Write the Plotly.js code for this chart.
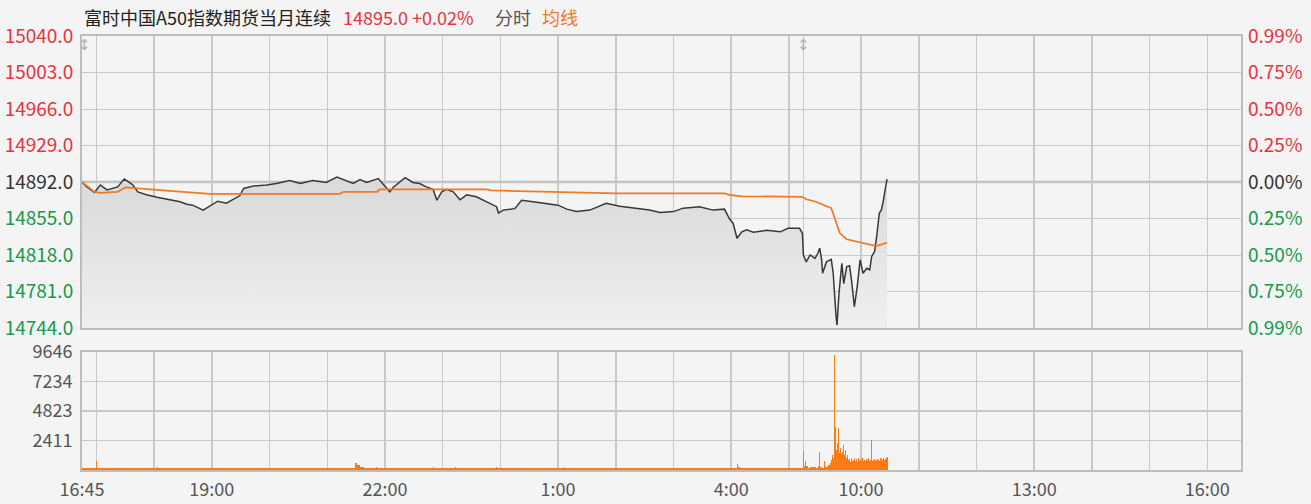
<!DOCTYPE html>
<html>
<head>
<meta charset="utf-8">
<script src="https://cdn.plot.ly/plotly-3.0.1.min.js"></script>
<style>
html,body{margin:0;padding:0;background:#f4f4f4;}
#chart{width:1311px;height:504px;}
</style>
</head>
<body>
<div id="chart"></div>
<script>
// ---------------- data ----------------
const titleText = "富时中国A50指数期货当月连续";
const lastPrice = "14895.0";
const lastChange = "+0.02%";
const prevClose = 14892;

const priceTickVals = [14744, 14781, 14818, 14855, 14892, 14929, 14966, 15003, 15040];
const priceTickText = ["14744.0","14781.0","14818.0","14855.0","14892.0","14929.0","14966.0","15003.0","15040.0"];
const pctTickText = ["0.99%","0.75%","0.50%","0.25%","0.00%","0.25%","0.50%","0.75%","0.99%"];
const volTickVals = [2411, 4823, 7234, 9646];
const volTickText = ["2411","4823","7234","9646"];

const xLabelTimes = ["16:45","19:00","22:00","1:00","4:00","10:00","13:00","16:00"];
const gridTimes = ["17:00","18:00","19:00","20:00","21:00","22:00","23:00","0:00","1:00","2:00","3:00","4:00","5:00","9:00","10:00","11:00","12:00","13:00","14:00","15:00","16:00"];

const priceTimes = ["16:45","16:50","16:58","17:04","17:11","17:17","17:22","17:29","17:38","17:43","17:52","18:03","18:13","18:27","18:34","18:40","18:51","18:58","19:06","19:15","19:22","19:29","19:33","19:43","19:57","20:07","20:21","20:32","20:45","20:59","21:10","21:17","21:27","21:34","21:41","21:53","22:00","22:05","22:09","22:21","22:29","22:36","22:43","22:50","22:54","22:59","23:04","23:11","23:18","23:25","23:35","23:46","23:56","23:58","0:03","0:15","0:22","0:34","0:48","1:00","1:09","1:19","1:33","1:50","2:04","2:18","2:35","2:46","3:00","3:10","3:27","3:41","3:53","3:58","4:02","4:06","4:11","4:16","4:23","4:37","4:51","4:59","5:11","5:14",
  "9:00","9:03","9:07","9:12","9:15","9:17","9:19","9:20","9:24","9:29","9:31","9:34","9:35","9:37","9:40","9:42","9:45","9:48","9:50","9:53","9:56","9:59","10:02","10:06","10:09","10:11","10:14","10:16","10:19","10:21","10:23","10:25","10:27"];
const priceValues = [14892,14887,14881.5,14889,14884,14886,14887,14895,14889,14882,14879,14876.5,14874.5,14872,14869.5,14868.5,14863.5,14867.5,14872.5,14870.5,14874.5,14878,14885.5,14888,14889,14890.5,14893.5,14890.5,14893.5,14891.5,14897,14894,14890.5,14894.5,14891.5,14895.5,14888,14882,14887,14896.5,14891.5,14890.5,14887,14884.5,14873.5,14882,14884.5,14882,14874,14879,14877,14872,14867,14860.5,14863.5,14865,14873.5,14872,14870.5,14868.5,14864.5,14862,14863.5,14870.5,14867.5,14865.5,14863.5,14861,14862,14865.5,14867,14863.5,14864.5,14855,14850,14835,14841.5,14843.5,14841,14843,14841.5,14845,14845,14840,
  14818,14811,14818,14814.5,14819.5,14825,14813,14799.5,14811,14813.5,14799.5,14755.5,14747,14779,14809.5,14789,14806,14807,14793,14765.5,14786,14813,14799.5,14804.5,14803,14816.5,14821.5,14835,14860.5,14863.5,14872,14884,14895];

const avgTimes = ["16:45","16:58","17:04","17:22","17:30","17:38","17:53","18:16","18:58","21:13","21:17","21:52","21:54","23:46","23:50","1:00","2:00","3:53","3:58","4:11","5:14","9:03","9:13","9:29","9:33","9:38","9:45","9:59","10:16","10:27"];
const avgValues = [14892,14882,14881,14882,14886.5,14886,14885,14883,14880,14880,14882,14882,14884.5,14884.5,14883.5,14882,14880.5,14880.5,14879,14877.5,14877,14874.5,14872,14865.5,14853.5,14840,14834,14830.5,14827,14830.5];

const volTimes = ["16:45","17:00","17:01","18:03","18:04","21:00","21:29","21:31","21:32","21:34","21:36","21:38","21:51","21:52","22:50","22:51","23:13","23:14","23:55","23:56","1:05","1:06","3:00","4:06","4:07","4:09","5:00",
  "9:00","9:01","9:02","9:03","9:05","9:07","9:09","9:11","9:13","9:15","9:16","9:17","9:19","9:21","9:22","9:24","9:26","9:27","9:28","9:29","9:30","9:31","9:32","9:33","9:34","9:35","9:36","9:37","9:38","9:39","9:40","9:41","9:42","9:43","9:44","9:45","9:46","9:47","9:48","9:49","9:50","9:51","9:52","9:53","9:54","9:55","9:56","9:57","9:58","9:59","10:00","10:01","10:02","10:03","10:04","10:05","10:06","10:07","10:08","10:09","10:10","10:11","10:12","10:13","10:14","10:15","10:16","10:17","10:18","10:19","10:20","10:21","10:22","10:23","10:24","10:25","10:26","10:27"];
const volValues = [180,710,180,240,170,170,560,420,380,220,250,180,260,170,220,170,210,170,230,170,220,170,165,460,250,170,160,
  1550,350,760,300,200,280,220,270,200,300,1450,280,200,740,350,280,420,380,550,820,1230,1000,9420,3550,1640,2200,3410,1400,1800,1300,1500,2050,1200,1600,1000,1200,800,900,650,750,950,700,850,1000,750,900,650,950,800,700,900,1000,750,850,700,900,800,950,700,800,2460,700,850,900,750,950,800,900,850,700,950,900,800,950,850,900,1000,1090];

// ---------------- session time -> axis position (minutes, sessions joined) ----------------
const NIGHT_START = 16*60+45, DAY_START = 9*60, NIGHT_LEN = 750, AXIS_END = 1205;
function tx(t){
  const p = t.split(":"); const tm = (+p[0])*60 + (+p[1]);
  if (tm >= NIGHT_START) return tm - NIGHT_START;
  if (tm < 6*60) return tm + 1440 - NIGHT_START;
  return NIGHT_LEN + tm - DAY_START;
}

const RED = "#e8333c", GREEN = "#17984a", DARK = "#333333", GRAY = "#555555";
function col(v, txt){
  const c = v > prevClose ? RED : (v < prevClose ? GREEN : DARK);
  return '<span style="color:' + c + '">' + txt + '</span>';
}

const px = priceTimes.map(tx);
const ax = avgTimes.map(tx);
const vx = volTimes.map(tx);
const vw = vx.map((x,i)=> i < vx.length-1 ? (vx[i+1]-x) : 1);

const gridVals = [0].concat(gridTimes.map(tx));
const gridText = gridVals.map(v => {
  const i = xLabelTimes.map(tx).indexOf(v);
  return i >= 0 ? xLabelTimes[i] : "";
});

const traces = [
  {x: px, y: priceValues, type:'scatter', mode:'lines', xaxis:'x', yaxis:'y',
   line:{color:'#383838', width:1.5}, fill:'tozeroy',
   fillgradient:{type:'vertical', start:14744, stop:14900, colorscale:[[0,'#efefef'],[1,'#d9d9d9']]},
   hoverinfo:'skip'},
  {x: ax, y: avgValues, type:'scatter', mode:'lines', xaxis:'x', yaxis:'y',
   line:{color:'#f07a22', width:1.7}, hoverinfo:'skip'},
  {x: [0, AXIS_END], y: [prevClose, prevClose], type:'scatter', mode:'lines', xaxis:'x', yaxis:'y3',
   line:{color:'rgba(0,0,0,0)', width:0}, hoverinfo:'skip'},
  {x: vx, y: volValues, width: vw, offset: 0, type:'bar', xaxis:'x2', yaxis:'y2',
   marker:{color:'#ff7a12', line:{width:0}}, hoverinfo:'skip'}
];

const gridCol = '#c9c9c9', lineCol = '#bdbdbd';
const FAM = '"Noto Sans CJK SC","Noto Sans",sans-serif';
const priceFont = {family:FAM, size:19};
const smallFont = {family:FAM, size:18, color:GRAY};

const layout = {
  width:1311, height:504,
  paper_bgcolor:'#f4f4f4', plot_bgcolor:'#f4f4f4',
  margin:{l:82, r:70, t:36, b:34, pad:0},
  showlegend:false, bargap:0,
  font:{family:FAM, size:18, color:GRAY},
  xaxis:{anchor:'y', domain:[0,1], range:[0,AXIS_END], tickmode:'array', tickvals:gridVals, ticktext:gridText,
    showticklabels:false, showgrid:true, gridcolor:gridCol, gridwidth:1.5, zeroline:false,
    showline:true, mirror:true, linecolor:lineCol, linewidth:2, ticks:''},
  xaxis2:{anchor:'y2', domain:[0,1], range:[0,AXIS_END], tickmode:'array', tickvals:gridVals, ticktext:gridText,
    showticklabels:true, tickfont:smallFont, ticks:'', ticklabelstandoff:2,
    showgrid:true, gridcolor:gridCol, gridwidth:1.5, zeroline:false,
    showline:true, mirror:true, linecolor:lineCol, linewidth:2},
  yaxis:{anchor:'x', domain:[0.3272,1], range:[14744,15040], tickmode:'array', tickvals:priceTickVals,
    ticktext:priceTickVals.map((v,i)=>col(v, priceTickText[i])), tickfont:priceFont, ticks:'', ticklabelstandoff:3,
    showgrid:true, gridcolor:gridCol, gridwidth:1, zeroline:false,
    showline:true, mirror:true, linecolor:lineCol, linewidth:2},
  yaxis3:{overlaying:'y', side:'right', anchor:'x', range:[14744,15040], tickmode:'array', tickvals:priceTickVals,
    ticktext:priceTickVals.map((v,i)=>col(v, pctTickText[i])), tickfont:priceFont, ticks:'', ticklabelstandoff:6,
    showgrid:false, zeroline:false, showline:false},
  yaxis2:{anchor:'x2', domain:[0,0.2719], range:[0,9646], tickmode:'array', tickvals:volTickVals, ticktext:volTickText,
    tickfont:smallFont, ticks:'', ticklabelstandoff:4,
    showgrid:true, gridcolor:gridCol, gridwidth:1.5, zeroline:false,
    showline:true, mirror:true, linecolor:lineCol, linewidth:2},
  shapes:[
    {type:'line', xref:'x', yref:'y', x0:0, x1:AXIS_END, y0:prevClose, y1:prevClose, line:{color:'#bdbdbd', width:2.5}, layer:'below'}
  ],
  annotations:[
    {xref:'paper', yref:'paper', x:0, y:1.0445, xanchor:'left', yanchor:'middle', showarrow:false,
     text:titleText, font:{family:FAM, size:18, color:'#222'}},
    {xref:'paper', yref:'paper', x:0.2235, y:1.0445, xanchor:'left', yanchor:'middle', showarrow:false,
     text:lastPrice + ' ' + lastChange, font:{family:FAM, size:18, color:RED}},
    {xref:'paper', yref:'paper', x:0.3545, y:1.0445, xanchor:'left', yanchor:'middle', showarrow:false,
     text:'分时', font:{family:FAM, size:18, color:GRAY}},
    {xref:'paper', yref:'paper', x:0.3955, y:1.0445, xanchor:'left', yanchor:'middle', showarrow:false,
     text:'均线', font:{family:FAM, size:18, color:'#f07a22'}},
    {xref:'x', yref:'paper', x:2.5, y:1.005, xanchor:'center', yanchor:'top', showarrow:false,
     text:'↕', font:{family:'DejaVu Sans', size:15, color:'#b0b0b0'}},
    {xref:'x', yref:'paper', x:NIGHT_LEN, y:1.005, xanchor:'center', yanchor:'top', showarrow:false,
     text:'↕', font:{family:'DejaVu Sans', size:15, color:'#b0b0b0'}}
  ]
};

Plotly.newPlot('chart', traces, layout, {staticPlot:true, displayModeBar:false});
</script>
</body>
</html>
